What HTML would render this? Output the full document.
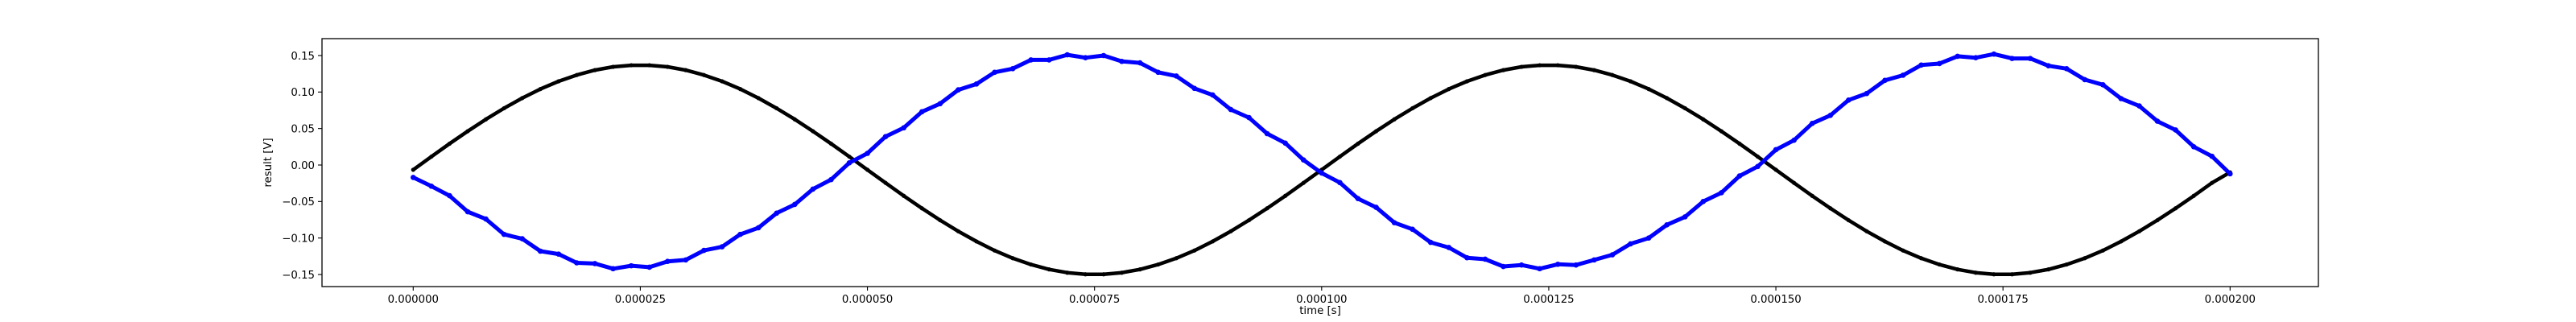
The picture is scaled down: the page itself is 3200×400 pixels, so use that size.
<!DOCTYPE html>
<html><head><meta charset="utf-8">
<style>
html,body{margin:0;padding:0;background:#fff;}
svg{display:block;font-family:"DejaVu Sans","Liberation Sans",sans-serif;}
</style></head>
<body>
<svg id="chart" width="3200" height="400" xmlns="http://www.w3.org/2000/svg">
<g id="plot"></g>
</svg>
<script>
const blackValues = [-0.0065,0.0115,0.0292,0.0463,0.0626,0.0778,0.0917,0.1041,0.1147,0.1233,0.1300,0.1345,0.1367,0.1367,0.1345,0.1300,0.1233,0.1147,0.1041,0.0917,0.0778,0.0626,0.0463,0.0292,0.0115,-0.0065,-0.0245,-0.0422,-0.0593,-0.0756,-0.0908,-0.1047,-0.1171,-0.1277,-0.1363,-0.1430,-0.1475,-0.1497,-0.1497,-0.1475,-0.1430,-0.1363,-0.1277,-0.1171,-0.1047,-0.0908,-0.0756,-0.0593,-0.0422,-0.0245,-0.0065,0.0115,0.0292,0.0463,0.0626,0.0778,0.0917,0.1041,0.1147,0.1233,0.1300,0.1345,0.1367,0.1367,0.1345,0.1300,0.1233,0.1147,0.1041,0.0917,0.0778,0.0626,0.0463,0.0292,0.0115,-0.0065,-0.0245,-0.0422,-0.0593,-0.0756,-0.0908,-0.1047,-0.1171,-0.1277,-0.1363,-0.1430,-0.1475,-0.1497,-0.1497,-0.1475,-0.1430,-0.1363,-0.1277,-0.1171,-0.1047,-0.0908,-0.0756,-0.0593,-0.0422,-0.0245,-0.0100];
const blueValues = [-0.0170,-0.0290,-0.0420,-0.0640,-0.0740,-0.0950,-0.1010,-0.1180,-0.1220,-0.1340,-0.1350,-0.1420,-0.1380,-0.1400,-0.1320,-0.1300,-0.1170,-0.1120,-0.0950,-0.0860,-0.0660,-0.0540,-0.0330,-0.0200,0.0030,0.0160,0.0390,0.0510,0.0730,0.0840,0.1030,0.1110,0.1270,0.1320,0.1440,0.1440,0.1510,0.1470,0.1500,0.1420,0.1400,0.1270,0.1220,0.1050,0.0960,0.0760,0.0650,0.0430,0.0300,0.0070,-0.0110,-0.0240,-0.0460,-0.0580,-0.0790,-0.0880,-0.1060,-0.1130,-0.1270,-0.1290,-0.1390,-0.1370,-0.1420,-0.1360,-0.1370,-0.1300,-0.1230,-0.1080,-0.1000,-0.0820,-0.0710,-0.0500,-0.0380,-0.0150,-0.0020,0.0210,0.0340,0.0570,0.0680,0.0890,0.0980,0.1160,0.1230,0.1370,0.1390,0.1490,0.1470,0.1520,0.1460,0.1460,0.1360,0.1320,0.1170,0.1100,0.0910,0.0810,0.0600,0.0480,0.0250,0.0120,-0.0120];
const xTickValues = [0, 0.000025, 0.00005, 0.000075, 0.0001, 0.000125, 0.00015, 0.000175, 0.0002];
const xTickLabels = ["0.000000","0.000025","0.000050","0.000075","0.000100","0.000125","0.000150","0.000175","0.000200"];
const yTickValues = [0.15, 0.10, 0.05, 0.00, -0.05, -0.10, -0.15];
const yTickLabels = ["0.15","0.10","0.05","0.00","\u22120.05","\u22120.10","\u22120.15"];
const tEnd = 0.0002;

const L=400, R=2880, T=48, B=356;
const x0px=513.3, x1px=2770.3;
function xScale(t){ return x0px + (t/0.0002)*(x1px-x0px); }
function yScale(v){ return 205 - v*906.7; }

const NS="http://www.w3.org/2000/svg";
const plot=document.getElementById('plot');
function mk(tag, attrs, parent){ const e=document.createElementNS(NS,tag); for(const k in attrs) e.setAttribute(k,attrs[k]); (parent||plot).appendChild(e); return e; }

// black series
const gBlack=mk('g',{});


const nb=blackValues.length;
let pb=blackValues.map((v,i)=>xScale(tEnd*i/(nb-1)).toFixed(1)+','+yScale(v).toFixed(1)).join(' ');
const lineB=mk('polyline',{points:pb,fill:'none',stroke:'#000','stroke-width':4.5,'stroke-linejoin':'round'},gBlack);


blackValues.forEach((v,i)=>{
  const c=mk('circle',{cx:xScale(tEnd*i/(nb-1)),cy:yScale(v),r:2.6,fill:'#000'},gBlack);
  
  
});

// blue series
const gBlue=mk('g',{});


const nu=blueValues.length;
let pu=blueValues.map((v,i)=>xScale(tEnd*i/(nu-1)).toFixed(1)+','+yScale(v).toFixed(1)).join(' ');
const lineU=mk('polyline',{points:pu,fill:'none',stroke:'#0000ff','stroke-width':5,'stroke-linejoin':'round'},gBlue);


blueValues.forEach((v,i)=>{
  const c=mk('circle',{cx:xScale(tEnd*i/(nu-1)),cy:yScale(v),r:3.3,fill:'#0000ff'},gBlue);
  
  
});

// frame
const frame=mk('rect',{x:L,y:T,width:R-L,height:B-T,fill:'none',stroke:'#000','stroke-width':1.3});



// x ticks
xTickValues.forEach((t,i)=>{
  const x=xScale(t);
  const tk=mk('line',{x1:x,x2:x,y1:B,y2:B+5,stroke:'#000','stroke-width':1.1});
  
  
  const tx=mk('text',{x:x,y:B+20,'font-size':13.3,'text-anchor':'middle',fill:'#000'});
  tx.textContent=xTickLabels[i];
  
  
});
// y ticks
yTickValues.forEach((v,i)=>{
  const y=yScale(v);
  const tk=mk('line',{x1:L-5,x2:L,y1:y,y2:y,stroke:'#000','stroke-width':1.1});
  
  
  const tx=mk('text',{x:L-9,y:y+4.8,'font-size':13.3,'text-anchor':'end',fill:'#000'});
  tx.textContent=yTickLabels[i];
  
  
});
const xl=mk('text',{x:(L+R)/2,y:390,'font-size':13.3,'text-anchor':'middle',fill:'#000'});
xl.textContent='time [s]';


const yl=mk('text',{x:0,y:0,'font-size':13.3,'text-anchor':'middle',fill:'#000',transform:'translate(337,'+((T+B)/2)+') rotate(-90)'});
yl.textContent='result [V]';


</script>
</body></html>
